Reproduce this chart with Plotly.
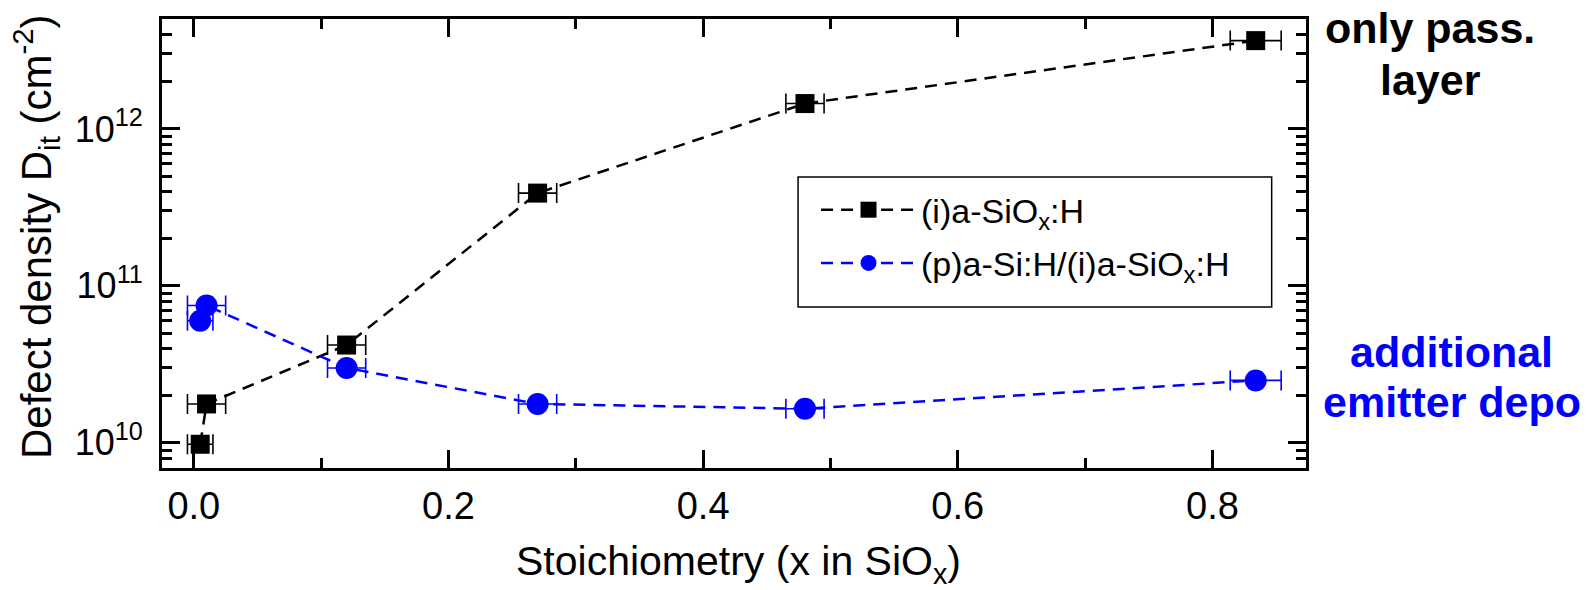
import plotly.graph_objects as go

# Stoichiometry x of the SiOx layer
x_ref = [0.005, 0.01, 0.12, 0.27, 0.48, 0.834]
x_err = [0.010, 0.015, 0.015, 0.015, 0.015, 0.020]

# Interface defect density Dit (cm^-2)
dit_passivation = [9.8e9, 1.77e10, 4.2e10, 3.9e11, 1.45e12, 3.65e12]
dit_with_emitter = [6.0e10, 7.5e10, 3.0e10, 1.77e10, 1.65e10, 2.5e10]

series_names = ["(i)a-SiO<sub>x</sub>:H", "(p)a-Si:H/(i)a-SiO<sub>x</sub>:H"]
x_tick_vals = [0.0, 0.2, 0.4, 0.6, 0.8]
x_tick_text = ["0.0", "0.2", "0.4", "0.6", "0.8"]
y_tick_vals = [1e10, 1e11, 1e12]
y_tick_text = ["10<sup>10</sup>", "10<sup>11</sup>", "10<sup>12</sup>"]

FONT = "Liberation Sans, Arial, sans-serif"
BLUE = "#0000ff"

fig = go.Figure()

fig.add_trace(go.Scatter(
    x=x_ref, y=dit_passivation, name=series_names[0], legendgroup="pass",
    mode="lines+markers",
    line=dict(color="black", width=2.5, dash="12px,8px"),
    marker=dict(symbol="square", size=19, color="black"),
    error_x=dict(type="data", array=x_err, color="black", thickness=1.6, width=10),
))
fig.add_trace(go.Scatter(
    x=x_ref, y=dit_with_emitter, name=series_names[1], legendgroup="emit",
    mode="lines+markers",
    line=dict(color=BLUE, width=2.5, dash="12px,8px"),
    marker=dict(symbol="circle", size=22, color=BLUE),
    error_x=dict(type="data", array=x_err, color=BLUE, thickness=1.6, width=10),
))

axis_common = dict(
    showline=True, linecolor="black", linewidth=3, mirror="allticks",
    ticks="inside", tickwidth=3, tickcolor="black", ticklen=18,
    showgrid=False, zeroline=False,
)

fig.update_xaxes(
    **axis_common,
    range=[-0.025, 0.8735],
    tickvals=x_tick_vals, ticktext=x_tick_text,
    tickfont=dict(family=FONT, size=38, color="black"),
    minor=dict(ticks="inside", ticklen=10, tickwidth=3, tickcolor="black",
               tickvals=[0.1, 0.3, 0.5, 0.7], showgrid=False),
    ticklabelstandoff=2,
)

fig.update_yaxes(
    **axis_common,
    type="log",
    range=[9.84, 12.70],
    tickvals=y_tick_vals, ticktext=y_tick_text,
    tickfont=dict(family=FONT, size=36, color="black"),
    minor=dict(ticks="inside", ticklen=10, tickwidth=3, tickcolor="black",
               dtick="D1", showgrid=False),
    ticklabelstandoff=9,
)

title_font = dict(family=FONT, size=41, color="black")
note_font_black = dict(family=FONT, size=43, color="black")
note_font_blue = dict(family=FONT, size=43, color=BLUE)

annotations = [
    # axis titles
    dict(text="Stoichiometry (x in SiO<sub>x</sub>)", xref="paper", yref="paper",
         x=0.5035, y=-0.214, xanchor="center", yanchor="middle", showarrow=False,
         font=title_font),
    dict(text="Defect density D<sub>it</sub> (cm<sup>-2</sup>)", xref="paper", yref="paper",
         x=-0.1101, y=0.5145, xanchor="center", yanchor="middle", showarrow=False,
         textangle=-90, font=dict(family=FONT, size=42, color="black")),
    # side notes
    dict(text="<b>only pass.</b>", xref="paper", yref="paper",
         x=1.1084, y=1.037, xanchor="center", yanchor="top", showarrow=False,
         font=note_font_black),
    dict(text="<b>layer</b>", xref="paper", yref="paper",
         x=1.1084, y=0.9214, xanchor="center", yanchor="top", showarrow=False,
         font=note_font_black),
    dict(text="<b>additional</b>", xref="paper", yref="paper",
         x=1.1276, y=0.3156, xanchor="center", yanchor="top", showarrow=False,
         font=note_font_blue),
    dict(text="<b>emitter depo</b>", xref="paper", yref="paper",
         x=1.1276, y=0.2042, xanchor="center", yanchor="top", showarrow=False,
         font=note_font_blue),
]

fig.update_layout(
    width=1590, height=590,
    margin=dict(l=162, r=284, t=19, b=122, autoexpand=False),
    paper_bgcolor="white", plot_bgcolor="white",
    showlegend=True,
    legend=dict(
        x=0.5717, y=0.639, xanchor="left", yanchor="top",
        bgcolor="rgba(0,0,0,0)", borderwidth=0,
        font=dict(family=FONT, size=34, color="black"),
        tracegroupgap=6, itemwidth=95,
    ),
    shapes=[
        dict(type="rect", xref="paper", yref="paper",
             x0=0.556, x1=0.970, y0=0.3586, y1=0.648,
             line=dict(color="black", width=1.5), fillcolor="white", layer="below"),
    ],
    annotations=annotations,
)

fig.write_html("out.html")
